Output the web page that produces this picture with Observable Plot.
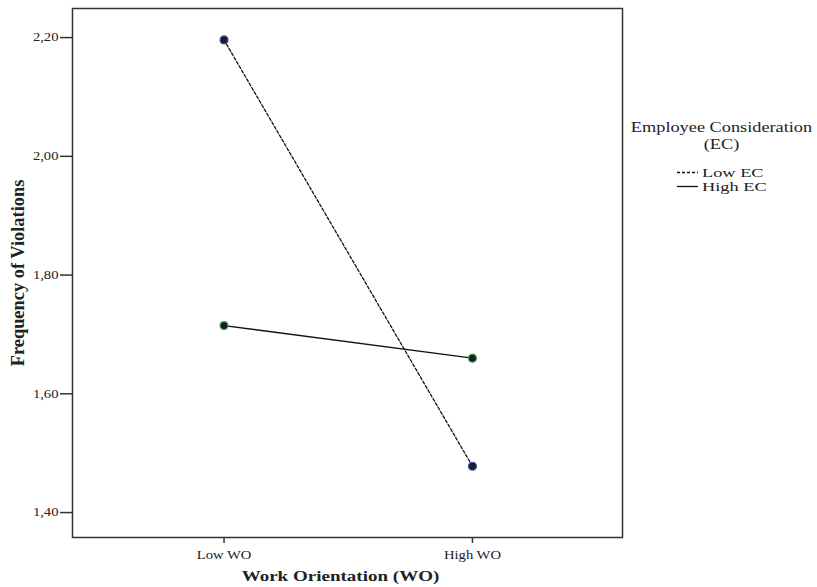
<!DOCTYPE html>
<html>
<head>
<meta charset="utf-8">
<script src="https://cdn.jsdelivr.net/npm/d3@7"></script>
<script src="https://cdn.jsdelivr.net/npm/@observablehq/plot@0.6"></script>
<style>
  body { margin: 0; background: #fff; }
  #wrap { position: relative; width: 817px; height: 587px; }
  #legend { position: absolute; left: 0; top: 0; }
</style>
</head>
<body>
<div id="wrap">
  <div id="chart"></div>
  <svg id="legend" width="817" height="587"></svg>
</div>
<script>
const workOrientation = ["Low WO", "High WO"];
const groups = ["Low EC", "High EC"];
const lowEC = [2.196, 1.478];
const highEC = [1.715, 1.660];
const yTicks = [1.40, 1.60, 1.80, 2.00, 2.20];
const legendTitle = ["Employee Consideration", "(EC)"];

const STRETCH = 1.22;
const FONT = "Liberation Serif, Times New Roman, serif";

const data = [];
workOrientation.forEach((wo, i) => {
  data.push({wo, i, group: "Low EC", value: lowEC[i]});
  data.push({wo, i, group: "High EC", value: highEC[i]});
});
const lowData = data.filter(d => d.group === "Low EC");
const highData = data.filter(d => d.group === "High EC");
const fmt = d => d.toFixed(2).replace(".", ",");

const chart = Plot.plot({
  width: 817,
  height: 587,
  marginLeft: 72,
  marginRight: 195,
  marginTop: 8,
  marginBottom: 50,
  style: {fontFamily: FONT, fontSize: "12px", color: "#222", background: "#fff"},
  x: {domain: [-0.61, 1.604]},
  y: {domain: [1.358, 2.249]},
  marks: [
    Plot.frame({stroke: "#333", strokeWidth: 1.5}),
    Plot.axisY({ticks: yTicks, tickFormat: fmt, tickSize: 12, tickPadding: 2, stroke: "#333", strokeWidth: 1.5,
      label: null, fontSize: 12}),
    Plot.axisX({ticks: [0, 1], tickFormat: i => workOrientation[i], tickSize: 6, tickPadding: 7, stroke: "#333", strokeWidth: 1.5,
      label: null, fontSize: 12}),
    Plot.line(lowData, {x: "i", y: "value", stroke: "#111", strokeWidth: 1.3, strokeDasharray: "3,2"}),
    Plot.line(highData, {x: "i", y: "value", stroke: "#111", strokeWidth: 1.3}),
    Plot.dot(lowData, {x: "i", y: "value", r: 4, fill: "#1b1b2a", stroke: "#3d5aa8", strokeWidth: 1.2}),
    Plot.dot(highData, {x: "i", y: "value", r: 4, fill: "#1b1b2a", stroke: "#3fae4a", strokeWidth: 1.2}),
    Plot.text(["Work Orientation (WO)"], {frameAnchor: "bottom", dy: 43, dx: -7, fontSize: 15.6, fontWeight: "bold", fill: "#222"}),
    Plot.text(["Frequency of Violations"], {frameAnchor: "left", textAnchor: "middle", dx: -54, rotate: -90, fontSize: 18.4, fontWeight: "bold", fill: "#222"})
  ]
});
document.getElementById("chart").appendChild(chart);

// horizontal stretch of the horizontal texts, as in the reference picture
chart.querySelectorAll("text").forEach(t => {
  if (t.textContent === "Frequency of Violations") return;
  const len = t.getComputedTextLength();
  if (len > 0) {
    t.setAttribute("textLength", (len * STRETCH).toFixed(2));
    t.setAttribute("lengthAdjust", "spacingAndGlyphs");
  }
});

// legend
const ns = "http://www.w3.org/2000/svg";
const leg = document.getElementById("legend");
function addText(str, x, y, anchor, size, s) {
  const t = document.createElementNS(ns, "text");
  t.textContent = str;
  t.setAttribute("transform", `translate(${x},${y}) scale(${s},1)`);
  t.setAttribute("text-anchor", anchor);
  t.setAttribute("dy", "0.35em");
  t.setAttribute("font-family", FONT);
  t.setAttribute("font-size", size);
  t.setAttribute("fill", "#222");
  leg.appendChild(t);
}
legendTitle.forEach((s, k) => addText(s, 721.5, 126.5 + k * 16.8, "middle", 15, STRETCH));
groups.forEach((g, k) => {
  const y = 172.5 + k * 14;
  const l = document.createElementNS(ns, "line");
  l.setAttribute("x1", 677); l.setAttribute("x2", 698);
  l.setAttribute("y1", y); l.setAttribute("y2", y);
  l.setAttribute("stroke", "#111"); l.setAttribute("stroke-width", 1.3);
  if (g === "Low EC") l.setAttribute("stroke-dasharray", "3,2");
  leg.appendChild(l);
  addText(g, 702, y, "start", 13, 1.41);
});
</script>
</body>
</html>
